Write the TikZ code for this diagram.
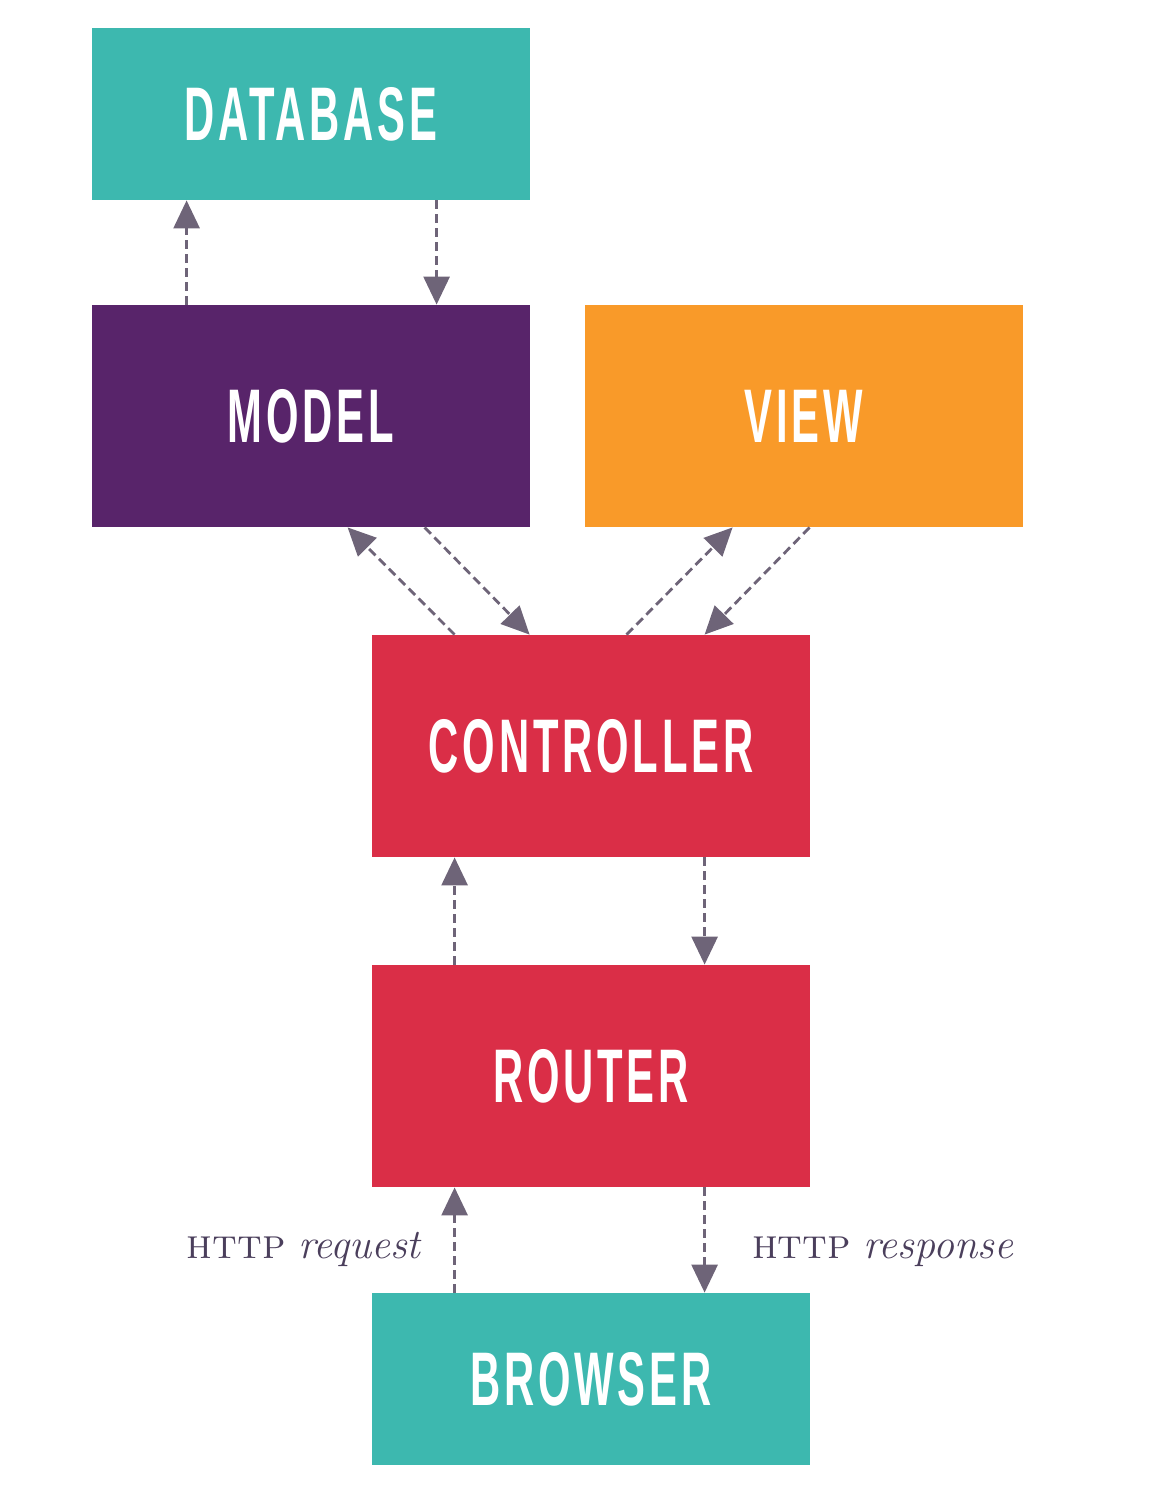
\documentclass[tikz,border=0pt]{standalone}
\usepackage{fontspec}
\usetikzlibrary{arrows.meta,calc}
\newfontfamily\boxfont[FakeStretch=0.55,LetterSpace=5]{Liberation Sans}
\definecolor{teal}{HTML}{3DB8AF}
\definecolor{mvpurple}{HTML}{58246A}
\definecolor{mvorange}{HTML}{F99A29}
\definecolor{mvred}{HTML}{DA2E47}
\definecolor{arrowc}{HTML}{6E6478}
\definecolor{labelc}{HTML}{4B3F5C}
\tikzset{
  box/.style={minimum width=219pt, inner sep=0pt, text=white,
    font=\boxfont\bfseries\fontsize{38}{40}\selectfont},
  shortbox/.style={box, minimum height=86pt},
  tallbox/.style={box, minimum height=111pt},
  flow/.style={draw=arrowc, line width=1.4pt, dash pattern=on 4.5pt off 2.5pt,
    -{Triangle[width=13pt,length=14pt]}},
  lbl/.style={text=labelc, font=\fontsize{21}{23}\selectfont, inner sep=0pt}
}
\begin{document}
\begin{tikzpicture}[x=0.5pt,y=-0.5pt]
\useasboundingbox (0,0) rectangle (1148,1512);
\node[shortbox, fill=teal] (db) at (311,114) {DATABASE};
\node[tallbox, fill=mvpurple] (model) at (311,416) {MODEL};
\node[tallbox, fill=mvorange] (view) at (804,416) {VIEW};
\node[tallbox, fill=mvred] (ctrl) at (591,746) {CONTROLLER};
\node[tallbox, fill=mvred] (router) at (591,1076) {ROUTER};
\node[shortbox, fill=teal] (browser) at (591,1379) {BROWSER};
% database <-> model
\draw[flow] ($(model.north west)+(95,0)$) -- ($(db.south west)+(95,0)$);
\draw[flow] ($(db.south west)+(345,0)$) -- ($(model.north west)+(345,0)$);
% model <-> controller
\draw[flow] ($(ctrl.north west)+(83,0)$) -- ($(model.south west)+(256,0)$);
\draw[flow] ($(model.south west)+(333,0)$) -- ($(ctrl.north west)+(158,0)$);
% view <-> controller
\draw[flow] ($(ctrl.north west)+(255,0)$) -- ($(view.south west)+(148,0)$);
\draw[flow] ($(view.south west)+(225,0)$) -- ($(ctrl.north west)+(333,0)$);
% controller <-> router
\draw[flow] ($(router.north west)+(83,0)$) -- ($(ctrl.south west)+(83,0)$);
\draw[flow] ($(ctrl.south west)+(333,0)$) -- ($(router.north west)+(333,0)$);
% router <-> browser
\draw[flow] ($(browser.north west)+(83,0)$) -- coordinate[pos=0.5] (req) ($(router.south west)+(83,0)$);
\draw[flow] ($(router.south west)+(333,0)$) -- coordinate[pos=0.5] (resp) ($(browser.north west)+(333,0)$);
\node[lbl, anchor=base east] (reqlbl) at ($(req)+(-32,18)$) {\textsc{http} \textit{request}};
\node[lbl, anchor=base west] (resplbl) at ($(resp)+(47,18)$) {\textsc{http} \textit{response}};
\end{tikzpicture}
\end{document}
